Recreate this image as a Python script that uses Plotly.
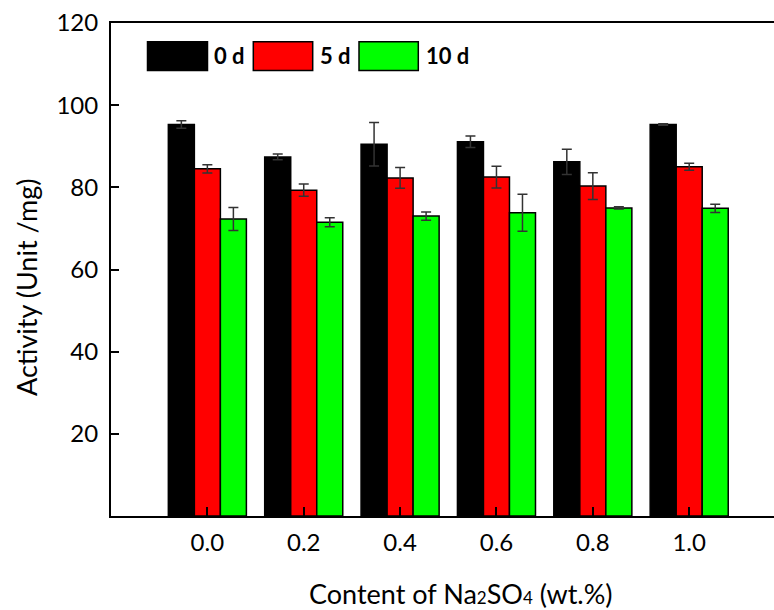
import plotly.graph_objects as go

# Data
contents = [0.0, 0.2, 0.4, 0.6, 0.8, 1.0]
tick_labels = ["0.0", "0.2", "0.4", "0.6", "0.8", "1.0"]
series_names = ["0 d", "5 d", "10 d"]
act_0d = [95.3, 87.4, 90.5, 91.1, 86.2, 95.3]
err_0d = [0.9, 0.7, 5.3, 1.4, 3.1, 0.2]
act_5d = [84.5, 79.3, 82.3, 82.5, 80.3, 85.0]
err_5d = [1.0, 1.5, 2.5, 2.65, 3.25, 0.85]
act_10d = [72.3, 71.5, 73.0, 73.8, 75.0, 74.9]
err_10d = [2.8, 1.1, 1.0, 4.5, 0.3, 1.0]
colors = ["#000000", "#ff0000", "#00ff00"]

FONT = "Lato"
W, H = 774, 610
L, R, T, B = 111, 0, 23, 94

fig = go.Figure()
for name, vals, errs, col in zip(series_names, [act_0d, act_5d, act_10d],
                                 [err_0d, err_5d, err_10d], colors):
    fig.add_trace(go.Bar(
        x=contents, y=vals, name=name,
        marker=dict(color=col, line=dict(color="black", width=1.5)),
        error_y=dict(type="data", array=errs, visible=True,
                     color="#333333", thickness=1.5, width=5),
        showlegend=False,
    ))

fig.update_layout(
    width=W, height=H,
    margin=dict(l=L, r=R, t=T, b=B),
    paper_bgcolor="white", plot_bgcolor="white",
    barmode="group", bargap=0.19, bargroupgap=0,
    font=dict(family=FONT, color="black", size=24),
)
fig.update_xaxes(
    range=[-0.2, 1.176], tickvals=contents, ticktext=tick_labels,
    showline=True, linecolor="black", linewidth=2, mirror=True,
    ticks="inside", ticklen=9, tickwidth=2, tickcolor="black",
    showgrid=False, zeroline=False, ticklabelstandoff=4,
    tickfont=dict(size=24, family=FONT),
)
fig.update_yaxes(
    range=[0, 120], tickvals=[20, 40, 60, 80, 100, 120],
    showline=True, linecolor="black", linewidth=2, mirror=False,
    ticks="inside", ticklen=8, tickwidth=2, tickcolor="black",
    showgrid=False, zeroline=False, ticklabelstandoff=6,
    tickfont=dict(size=24, family=FONT),
)

pw, ph = W - L - R, H - T - B
def px_x(p):
    return (p - L) / pw
def px_y(p):
    return (H - B - p) / ph

# axis titles
fig.add_annotation(text="Activity (Unit /mg)", xref="paper", yref="paper",
                   x=px_x(26), y=px_y(288), textangle=-90, showarrow=False,
                   font=dict(size=27, family=FONT), xanchor="center", yanchor="middle")
small = '<span style="font-size:17px">%s</span>'
fig.add_annotation(text="Content of Na" + small % "2" + "SO" + small % "4" + " (wt.%)",
                   xref="paper", yref="paper",
                   x=px_x(461), y=px_y(593), showarrow=False,
                   font=dict(size=27, family=FONT), xanchor="center", yanchor="middle")

# legend drawn as boxes
box_x = [(147.5, 207.5), (253.3, 312.7), (359.0, 418.3)]
text_x = [212, 318, 424]
for (x0, x1), tx, name, col in zip(box_x, text_x, series_names, colors):
    fig.add_shape(type="rect", xref="paper", yref="paper",
                  x0=px_x(x0), x1=px_x(x1), y0=px_y(70.5), y1=px_y(41.7),
                  fillcolor=col, line=dict(color="black", width=1.5))
    fig.add_annotation(text="<b>" + name + "</b>", xref="paper", yref="paper",
                       x=px_x(tx), y=px_y(56), xanchor="left", yanchor="middle",
                       showarrow=False, font=dict(size=22, family=FONT))

fig.write_html("out.html")
